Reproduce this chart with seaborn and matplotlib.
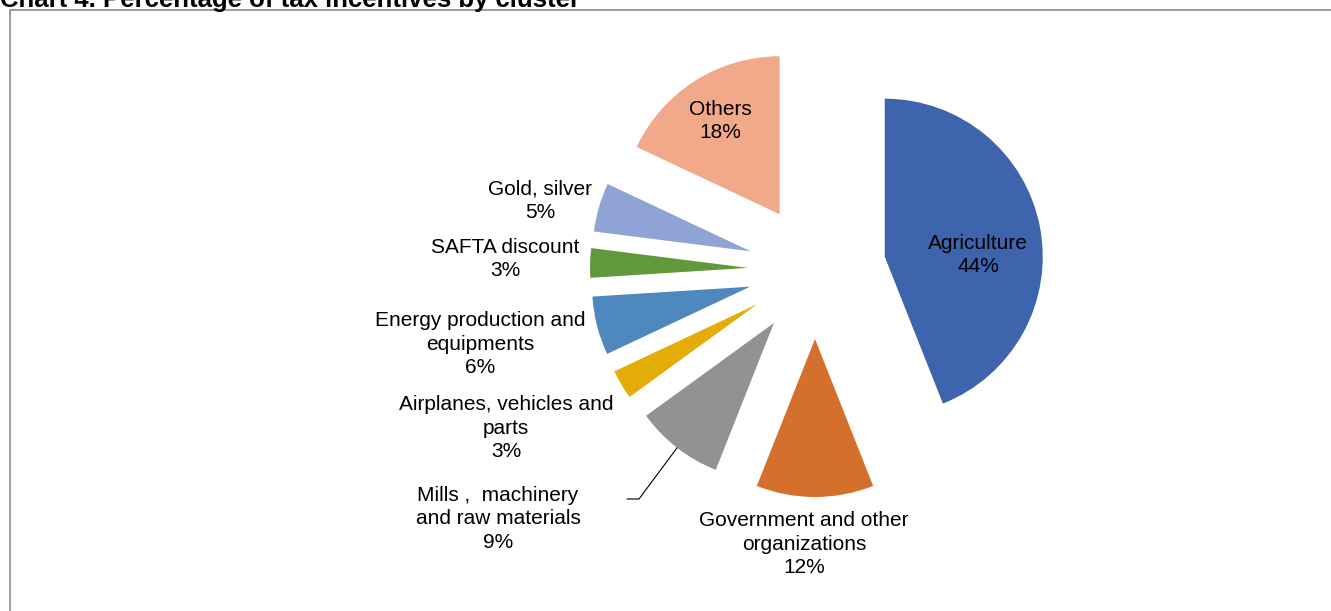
import matplotlib
matplotlib.use('Agg')
import matplotlib.pyplot as plt
import seaborn as sns
import numpy as np
from matplotlib.patches import Rectangle

# Data
categories = ['Agriculture', 'Government and other organizations', 'Mills ,  machinery and raw materials',
              'Airplanes, vehicles and parts', 'Energy production and equipments', 'SAFTA discount',
              'Gold, silver', 'Others']
shares = [44, 12, 9, 3, 6, 3, 5, 18]
label_names = ['Agriculture', 'Government and other\norganizations', 'Mills ,  machinery\nand raw materials',
               'Airplanes, vehicles and\nparts', 'Energy production and\nequipments', 'SAFTA discount',
               'Gold, silver', 'Others']
colors = ['#3D64AD', '#D46F2C', '#929292', '#E3AC06', '#4F88BE', '#5F993C', '#8FA3D5', '#F1A98A']

# Layout (pixels, origin top-left)
W, H = 1331, 611
pie_center = (815, 270)
pie_radius = 158
explode_px = [71, 69, 67, 67, 67, 67, 67, 66]
label_xy = [(978, 255), (804, 544), (498, 519), (506, 428), (480, 344), (505, 259), (540, 201), (720, 121)]
mills_elbow = [(639, 499), (627, 499)]

sns.set_theme(style='white')
plt.rcParams['font.family'] = ['Liberation Sans', 'DejaVu Sans']

fig = plt.figure(figsize=(W / 100, H / 100), dpi=100)
ax = fig.add_axes([0, 0, 1, 1])

wedges, _ = ax.pie(shares, colors=colors, startangle=90, counterclock=False,
                   radius=pie_radius, center=(pie_center[0], H - pie_center[1]),
                   explode=explode_px, wedgeprops=dict(linewidth=0))
ax.set_xlim(0, W)
ax.set_ylim(0, H)
ax.set_aspect('auto')
ax.axis('off')

# data labels
for name, pct, (lx, ly) in zip(label_names, shares, label_xy):
    ax.text(lx, H - ly, f'{name}\n{pct}%', ha='center', va='center', multialignment='center',
            fontsize=15, color='black', linespacing=1.3)

# leader line for the Mills slice
w = wedges[2]
mid = np.deg2rad((w.theta1 + w.theta2) / 2)
px = w.center[0] + w.r * np.cos(mid)
py = w.center[1] + w.r * np.sin(mid)
ax.plot([px] + [p[0] for p in mills_elbow], [py] + [H - p[1] for p in mills_elbow],
        color='black', lw=0.8)

# chart area border
fig.patches.append(Rectangle((10 / W, -0.1), 1.2, 1.1 - 10 / H, transform=fig.transFigure,
                             fill=False, edgecolor='#8c8c8c', lw=1.2))

fig.text(0, 1 - 7 / H, 'Chart 4. Percentage of tax incentives by cluster', ha='left', va='baseline',
         fontsize=18.5, fontweight='bold', color='black')

fig.savefig('out.png', dpi=100)
